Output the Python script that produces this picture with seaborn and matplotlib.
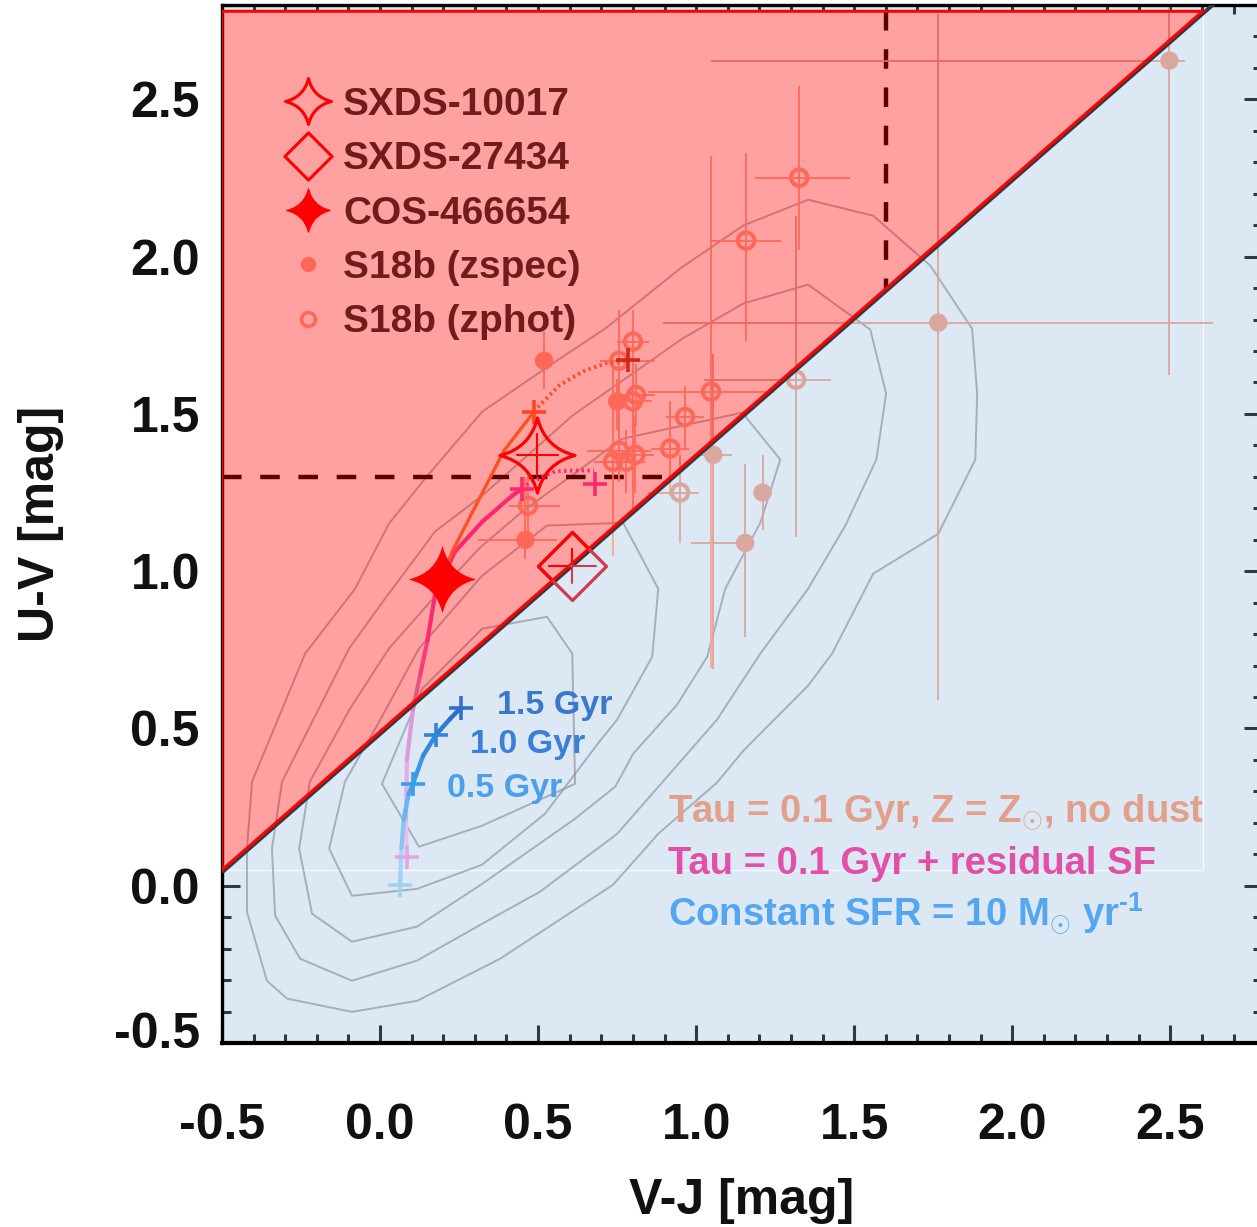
import numpy as np
import pandas as pd
import matplotlib
matplotlib.use("Agg")
import matplotlib.pyplot as plt
import seaborn as sns
from matplotlib.path import Path
from matplotlib.patches import Polygon
from matplotlib.collections import LineCollection
from matplotlib.colors import LinearSegmentedColormap
from matplotlib.lines import Line2D
from matplotlib.ticker import MultipleLocator
import matplotlib.transforms as mtransforms

# ---------------- data ----------------
uvj_slope = 0.88
uvj_intercept = 0.49
uv_cut = 1.3
vj_cut = 1.6
vj_left = -0.5
box_top = 2.78

xticks = [-0.5, 0.0, 0.5, 1.0, 1.5, 2.0, 2.5]
yticks = [-0.5, 0.0, 0.5, 1.0, 1.5, 2.0, 2.5]
xtick_labels = ["-0.5", "0.0", "0.5", "1.0", "1.5", "2.0", "2.5"]
ytick_labels = ["-0.5", "0.0", "0.5", "1.0", "1.5", "2.0", "2.5"]

# density contours of the parent sample
cont_a_vj = [0.006, 0.123, 0.323, 0.617, 0.608, 0.528, 0.323, 0.133]
cont_a_uv = [0.324, 0.124, 0.191, 0.324, 0.738, 0.855, 0.817, 0.626]
cont_b_vj = [0.696, 0.522, 0.323, 0.117, -0.089, -0.161, -0.111, -0.003, 0.123, 0.323, 0.528, 0.769, 0.880, 0.861, 0.750]
cont_b_uv = [0.461, 0.229, 0.067, -0.010, -0.032, 0.118, 0.331, 0.521, 0.754, 0.986, 1.145, 1.154, 0.944, 0.728, 0.528]
cont_c_vj = [0.028, 0.187, 0.313, 0.449, 0.766, 1.146, 1.266, 1.203, 1.092, 1.035, 0.940, 0.801, 0.744, 0.617,
             0.323, 0.117, -0.089, -0.215, -0.256, -0.222, -0.095]
cont_c_uv = [0.754, 0.935, 1.072, 1.189, 1.421, 1.504, 1.355, 1.154, 0.944, 0.728, 0.576, 0.420, 0.315, 0.213,
             0.006, -0.130, -0.178, -0.089, 0.118, 0.331, 0.563]
cont_d_vj = [-0.098, 0.016, 0.174, 0.323, 0.608, 0.956, 1.149, 1.354, 1.551, 1.601, 1.570, 1.472, 1.354, 1.203,
             1.066, 0.886, 0.750, 0.506, 0.323, 0.117, -0.089, -0.253, -0.332, -0.342, -0.310]
cont_d_uv = [0.754, 0.913, 1.126, 1.240, 1.494, 1.739, 1.851, 1.911, 1.768, 1.564, 1.355, 1.145, 0.944, 0.738,
             0.528, 0.321, 0.165, -0.019, -0.121, -0.238, -0.302, -0.232, -0.095, 0.118, 0.331]
cont_e_vj = [-0.237, -0.079, 0.028, 0.142, 0.323, 0.554, 0.712, 0.949, 1.149, 1.354, 1.560, 1.741, 1.873, 1.889,
             1.883, 1.766, 1.560, 1.430, 1.354, 1.149, 1.066, 0.880, 0.737, 0.380, 0.117, -0.089, -0.294, -0.358,
             -0.421, -0.421, -0.405]
cont_e_uv = [0.738, 0.944, 1.151, 1.294, 1.507, 1.666, 1.771, 1.962, 2.099, 2.181, 2.130, 1.971, 1.771, 1.564,
             1.355, 1.119, 0.992, 0.738, 0.636, 0.429, 0.328, 0.165, 0.003, -0.232, -0.366, -0.401, -0.359, -0.302,
             -0.083, 0.118, 0.331]

# S18b sample, spectroscopic redshifts (filled)
spec_vj = [0.519, 0.750, 0.460, 1.766, 2.497, 1.054, 1.210, 1.155]
spec_uv = [1.669, 1.540, 1.100, 1.790, 2.623, 1.370, 1.250, 1.090]
spec_xlo = [0.02, 0.03, 0.15, 0.87, 1.45, 0.06, 0.03, 0.17]
spec_xhi = [0.02, 0.03, 0.10, 0.87, 0.05, 0.06, 0.03, 0.00]
spec_ylo = [0.09, 0.09, 0.06, 1.20, 1.00, 0.68, 0.12, 0.30]
spec_yhi = [0.09, 0.07, 0.20, 0.98, 0.30, 0.32, 0.12, 0.25]

# S18b sample, photometric redshifts (open)
phot_vj = [1.326, 1.158, 0.756, 0.800, 0.810, 0.800, 0.965, 1.047, 0.918, 0.756, 0.807, 0.737, 0.778, 0.468, 1.316, 0.949]
phot_uv = [2.251, 2.051, 1.669, 1.730, 1.560, 1.540, 1.490, 1.571, 1.390, 1.383, 1.370, 1.348, 1.348, 1.208, 1.609, 1.250]
phot_xlo = [0.14, 0.11, 0.06, 0.05, 0.06, 0.06, 0.06, 0.20, 0.06, 0.10, 0.06, 0.06, 0.06, 0.06, 0.29, 0.10]
phot_xhi = [0.16, 0.11, 0.11, 0.05, 0.06, 0.06, 0.06, 0.20, 0.06, 0.10, 0.06, 0.06, 0.06, 0.10, 0.11, 0.06]
phot_ylo = [0.23, 0.32, 0.27, 0.55, 0.10, 0.10, 0.10, 0.88, 0.15, 0.10, 0.12, 0.30, 0.10, 0.10, 0.50, 0.16]
phot_yhi = [0.29, 0.28, 0.16, 0.10, 0.10, 0.10, 0.10, 0.75, 0.15, 0.10, 0.12, 0.30, 0.10, 0.10, 0.52, 0.12]

# highlighted sources
src_names = ["SXDS-10017", "SXDS-27434", "COS-466654"]
src_vj = [0.497, 0.608, 0.196]
src_uv = [1.370, 1.017, 0.976]
src_vj_err = [0.065, 0.075, 0.0]
src_uv_err = [0.065, 0.055, 0.0]

# model tracks
orange_vj = [0.196, 0.228, 0.392, 0.487]
orange_uv = [0.976, 1.062, 1.383, 1.507]
orange_dot_vj = [0.487, 0.503, 0.566, 0.639, 0.712, 0.785]
orange_dot_uv = [1.507, 1.525, 1.590, 1.634, 1.660, 1.670]
orange_mark_vj = [0.487, 0.785]
orange_mark_uv = [1.507, 1.672]

pink_vj = [0.085, 0.082, 0.085, 0.104, 0.127, 0.150, 0.173, 0.196, 0.237, 0.323, 0.418, 0.449]
pink_uv = [0.086, 0.210, 0.400, 0.560, 0.670, 0.780, 0.920, 0.976, 1.062, 1.157, 1.240, 1.262]
pink_dot_vj = [0.449, 0.456, 0.513, 0.554, 0.608, 0.677]
pink_dot_uv = [1.262, 1.270, 1.300, 1.317, 1.320, 1.320]
pink_mark_vj = [0.085, 0.449, 0.680]
pink_mark_uv = [0.090, 1.262, 1.278]

blue_vj = [0.063, 0.068, 0.075, 0.090, 0.104, 0.136, 0.177, 0.222, 0.256]
blue_uv = [0.003, 0.120, 0.210, 0.290, 0.324, 0.413, 0.480, 0.531, 0.566]
blue_mark_vj = [0.063, 0.104, 0.177, 0.256]
blue_mark_uv = [0.003, 0.324, 0.480, 0.566]
age_labels = ["0.5 Gyr", "1.0 Gyr", "1.5 Gyr"]
age_label_vj = [0.212, 0.285, 0.370]
age_label_uv = [0.308, 0.449, 0.572]

legend_labels = ["SXDS-10017", "SXDS-27434", "COS-466654", "S18b (zspec)", "S18b (zphot)"]
model_texts = [r"Tau = 0.1 Gyr, Z = $\mathrm{Z}_{\odot}$, no dust",
               "Tau = 0.1 Gyr + residual SF",
               r"Constant SFR = 10 $\mathrm{M}_{\odot}$ yr$^{\text{-1}}$"]
model_text_uv = [0.203, 0.038, -0.127]
model_text_vj = 0.911

# ---------------- style ----------------
sns.set_theme(style="white")
plt.rcParams["font.family"] = ["Liberation Sans", "DejaVu Sans"]
plt.rcParams["font.weight"] = "bold"
plt.rcParams["mathtext.fontset"] = "custom"
plt.rcParams["mathtext.rm"] = "Liberation Sans:bold"
plt.rcParams["mathtext.it"] = "Liberation Sans:bold"
plt.rcParams["mathtext.bf"] = "Liberation Sans:bold"

BLUE_BG = "#dce8f3"
TICK_C = "#2b3a47"
Q_COL = "#ffa68e"      # quiescent S18b (before red overlay)
SF_COL = "#d9a79e"     # star-forming S18b


def star_path(c=0.2):
    verts = [(0, 1), (c, c), (1, 0), (c, -c), (0, -1), (-c, -c), (-1, 0), (-c, c), (0, 1), (0, 1)]
    codes = [Path.MOVETO] + [Path.CURVE3] * 8 + [Path.CLOSEPOLY]
    return Path(verts, codes)


STAR = star_path()
DIAMOND = Path([(0, 1), (1, 0), (0, -1), (-1, 0), (0, 1)],
               [Path.MOVETO, Path.LINETO, Path.LINETO, Path.LINETO, Path.CLOSEPOLY])

fig = plt.figure(figsize=(12.57, 12.27), dpi=100)
ax = fig.add_axes([222 / 1257, 184 / 1227, 1040 / 1257, 1038 / 1227])
ax.set_xlim(-0.5, 2.79)
ax.set_ylim(-0.5, 2.80)
ax.set_facecolor(BLUE_BG)

x_top = (box_top - uvj_intercept) / uvj_slope
y_left = uvj_slope * vj_left + uvj_intercept
red_verts = [(vj_left, y_left), (vj_left, box_top), (x_top, box_top)]

# white base + translucent red overlay for the quiescent wedge
ax.add_patch(Polygon(red_verts, closed=True, facecolor="white", edgecolor="none", zorder=1))
ax.add_patch(Polygon(red_verts, closed=True, facecolor="#ff0000", alpha=0.37, edgecolor="none", zorder=3))
# faint seam of the box
ax.plot([vj_left, x_top, x_top], [y_left, y_left, box_top], color="white", lw=0.9, alpha=0.8, zorder=1.5)

# contours
for cx, cy in [(cont_a_vj, cont_a_uv), (cont_b_vj, cont_b_uv), (cont_c_vj, cont_c_uv),
               (cont_d_vj, cont_d_uv), (cont_e_vj, cont_e_uv)]:
    ax.plot(list(cx) + [cx[0]], list(cy) + [cy[0]], color="#7f8994", lw=1.4, alpha=0.6, zorder=2)

# selection dashed lines
x_int = (uv_cut - uvj_intercept) / uvj_slope
ax.plot([vj_left, x_int], [uv_cut, uv_cut], color="black", lw=3.2, ls=(0, (4.4, 4.2)), zorder=2.6)
ax.plot([vj_cut, vj_cut], [box_top, uvj_slope * vj_cut + uvj_intercept], color="black", lw=3.2,
        ls=(0, (4.4, 4.2)), zorder=2.6)

# S18b points
spec = pd.DataFrame(dict(vj=spec_vj, uv=spec_uv, xlo=spec_xlo, xhi=spec_xhi, ylo=spec_ylo, yhi=spec_yhi))
phot = pd.DataFrame(dict(vj=phot_vj, uv=phot_uv, xlo=phot_xlo, xhi=phot_xhi, ylo=phot_ylo, yhi=phot_yhi))
for df in (spec, phot):
    df["quiescent"] = df["uv"] > uvj_slope * df["vj"] + uvj_intercept

for df, filled in ((spec, True), (phot, False)):
    for q, col in ((True, Q_COL), (False, SF_COL)):
        d = df[df["quiescent"] == q]
        if d.empty:
            continue
        ax.errorbar(d["vj"], d["uv"], xerr=[d["xlo"], d["xhi"]], yerr=[d["ylo"], d["yhi"]],
                    fmt="none", ecolor=col, elinewidth=1.3, capsize=0, zorder=2.7)
        if filled:
            sns.scatterplot(data=d, x="vj", y="uv", color=col, s=175, edgecolor="none",
                            linewidth=0, zorder=2.8, ax=ax, legend=False)
        else:
            ax.scatter(d["vj"], d["uv"], s=140, facecolors="none", edgecolors=col, linewidths=2.9, zorder=2.8)

# tracks
def gradient_line(xs, ys, cmap, lw, z, alpha=1.0):
    pts = np.column_stack([xs, ys])
    segs = np.stack([pts[:-1], pts[1:]], axis=1)
    t = np.linspace(0, 1, len(segs))
    lc = LineCollection(segs, colors=cmap(t), linewidths=lw, zorder=z, capstyle="round",
                        joinstyle="round", alpha=alpha)
    ax.add_collection(lc)

pink_cmap = LinearSegmentedColormap.from_list(
    "pink", [(0, "#e9bfec"), (0.3, "#d884d4"), (0.4, "#ef62c2"), (0.5, "#ff40b0"), (1, "#ff40b0")])
blue_cmap = LinearSegmentedColormap.from_list(
    "blue", [(0, "#a8d4f6"), (0.45, "#46a4ee"), (0.65, "#378ee2"), (1, "#2c6ecb")])

gradient_line(pink_vj, pink_uv, pink_cmap, 3.0, 2.9)
sns.lineplot(x=pink_dot_vj, y=pink_dot_uv, sort=False, estimator=None, color="#ff40b0", lw=2.8,
             ls=(0, (0.6, 0.9)), zorder=2.9, ax=ax)
sns.lineplot(x=orange_vj, y=orange_uv, sort=False, estimator=None, color="#ff8030", lw=2.4, zorder=2.9, ax=ax)
sns.lineplot(x=orange_dot_vj, y=orange_dot_uv, sort=False, estimator=None, color="#ff7a30", lw=2.8,
             ls=(0, (0.6, 0.9)), zorder=2.9, ax=ax)
gradient_line(blue_vj, blue_uv, blue_cmap, 3.2, 4)

ax.plot(pink_mark_vj[:1], pink_mark_uv[:1], "+", ms=17, mew=2.6, color="#dfa6e0", zorder=4)
ax.plot(pink_mark_vj[1:], pink_mark_uv[1:], "+", ms=17, mew=2.6, color="#ff40b0", zorder=2.95)
ax.plot(orange_mark_vj[:1], orange_mark_uv[:1], "+", ms=17, mew=2.6, color="#ff7030", zorder=2.95)
ax.plot(orange_mark_vj[1:], orange_mark_uv[1:], "+", ms=17, mew=2.6, color="#b44428", zorder=2.95)
for (mx, my, mc) in zip(blue_mark_vj, blue_mark_uv, ["#a0d2f5", "#3a9ef0", "#3584dc", "#2f6fcc"]):
    ax.plot([mx], [my], "+", ms=17, mew=2.6, color=mc, zorder=4.1)
for lab, lx, ly, lc in zip(age_labels, age_label_vj, age_label_uv, ["#4aa0ea", "#3a80d6", "#3a78cc"]):
    ax.text(lx, ly, lab, fontsize=24.5, fontweight="bold", color=lc, ha="left", va="center", zorder=4.2)

# UVJ boundary lines
dark_tr = mtransforms.offset_copy(ax.transData, fig=fig, x=1.2, y=-1.4, units="dots")
ax.plot([vj_left, 2.79], [y_left, uvj_slope * 2.79 + uvj_intercept], color="#2e3a44", lw=2.8,
        transform=dark_tr, zorder=5.5)
ax.plot([vj_left, vj_left, x_top, vj_left], [y_left, box_top, box_top, y_left], color="#ff0000",
        lw=2.2, zorder=6, solid_joinstyle="miter")

# highlighted sources
red_clip = Polygon(red_verts, closed=True, transform=ax.transData)
# SXDS-27434 (diamond), crimson where outside the red wedge, red inside
for col, z, clip in (("#cf3b4d", 6.5, False), ("#ff0000", 6.6, True)):
    arts = ax.plot([src_vj[1]], [src_uv[1]], marker=DIAMOND, ms=49, mfc="none", mec=col, mew=2.3,
                   ls="none", zorder=z)
    arts += ax.plot([src_vj[1] - src_vj_err[1], src_vj[1] + src_vj_err[1]], [src_uv[1], src_uv[1]],
                    color=col, lw=1.5, zorder=z)
    arts += ax.plot([src_vj[1], src_vj[1]], [src_uv[1] - src_uv_err[1], src_uv[1] + src_uv_err[1]],
                    color=col, lw=1.5, zorder=z)
    if clip:
        for a in arts:
            a.set_clip_path(red_clip)
# SXDS-10017 (open star)
ax.plot([src_vj[0] - src_vj_err[0], src_vj[0] + src_vj_err[0]], [src_uv[0], src_uv[0]], color="red", lw=1.5, zorder=6.7)
ax.plot([src_vj[0], src_vj[0]], [src_uv[0] - src_uv_err[0], src_uv[0] + src_uv_err[0]], color="red", lw=1.5, zorder=6.7)
ax.plot([src_vj[0]], [src_uv[0]], marker=STAR, ms=54, mfc="none", mec="red", mew=2.3, ls="none", zorder=6.8)
# COS-466654 (filled star)
ax.plot([src_vj[2]], [src_uv[2]], marker=STAR, ms=47, mfc="red", mec="red", mew=0.5, ls="none", zorder=6.9)

# model legend texts
for s, yy, c in zip(model_texts, model_text_uv, ["#e2a08c", "#e150a6", "#55a6f0"]):
    ax.text(model_text_vj, yy, s, fontsize=27.5, fontweight="bold", color=c, ha="left", va="baseline", zorder=4.3)

# legend (drawn under the red overlay)
handles = [
    Line2D([], [], ls="none", marker=STAR, ms=33, mfc="none", mec="red", mew=2.2),
    Line2D([], [], ls="none", marker=DIAMOND, ms=34, mfc="none", mec="red", mew=2.2),
    Line2D([], [], ls="none", marker=STAR, ms=31, mfc="red", mec="red"),
    Line2D([], [], ls="none", marker="o", ms=11, mfc=Q_COL, mec="none"),
    Line2D([], [], ls="none", marker="o", ms=10, mfc="none", mec=Q_COL, mew=2.6),
]
leg = ax.legend(handles, legend_labels, loc="upper left", bbox_to_anchor=(0.0603, 0.921), frameon=False,
                handlelength=1.2, handletextpad=0.3, labelspacing=0.47, borderpad=0,
                borderaxespad=0, prop=dict(weight="bold", size=28))
for t in leg.get_texts():
    t.set_color("#1f2d2d")
leg.set_zorder(2.95)

# axes cosmetics
ax.set_xticks(xticks)
ax.set_xticklabels(xtick_labels)
ax.set_yticks(yticks)
ax.set_yticklabels(ytick_labels)
ax.xaxis.set_minor_locator(MultipleLocator(0.1))
ax.yaxis.set_minor_locator(MultipleLocator(0.1))
ax.tick_params(which="both", direction="in", top=True, right=True, bottom=True, left=True, color=TICK_C)
ax.tick_params(which="major", length=13, width=2.2)
ax.tick_params(which="minor", length=6.5, width=2.2)
ax.tick_params(axis="x", which="major", pad=43, labelsize=36, labelcolor="#111111")
ax.tick_params(axis="y", which="major", pad=16, labelsize=36, labelcolor="#111111")
for lab in ax.get_xticklabels() + ax.get_yticklabels():
    lab.set_fontweight("bold")
# lowest y label sits a little above its tick in the reference
low = ax.get_yticklabels()[0]
low.set_transform(low.get_transform() + mtransforms.ScaledTranslation(0, 13 / 100, fig.dpi_scale_trans))
ax.set_xlabel("V-J [mag]", fontsize=36, fontweight="bold", color="#111111", labelpad=21)
ax.set_ylabel("U-V [mag]", fontsize=36, fontweight="bold", color="#111111", labelpad=36)
for name, sp in ax.spines.items():
    sp.set_color("black")
    sp.set_linewidth(2.4)
    sp.set_zorder(5)
ax.spines["bottom"].set_linewidth(3)

fig.savefig("out.png", dpi=100)
